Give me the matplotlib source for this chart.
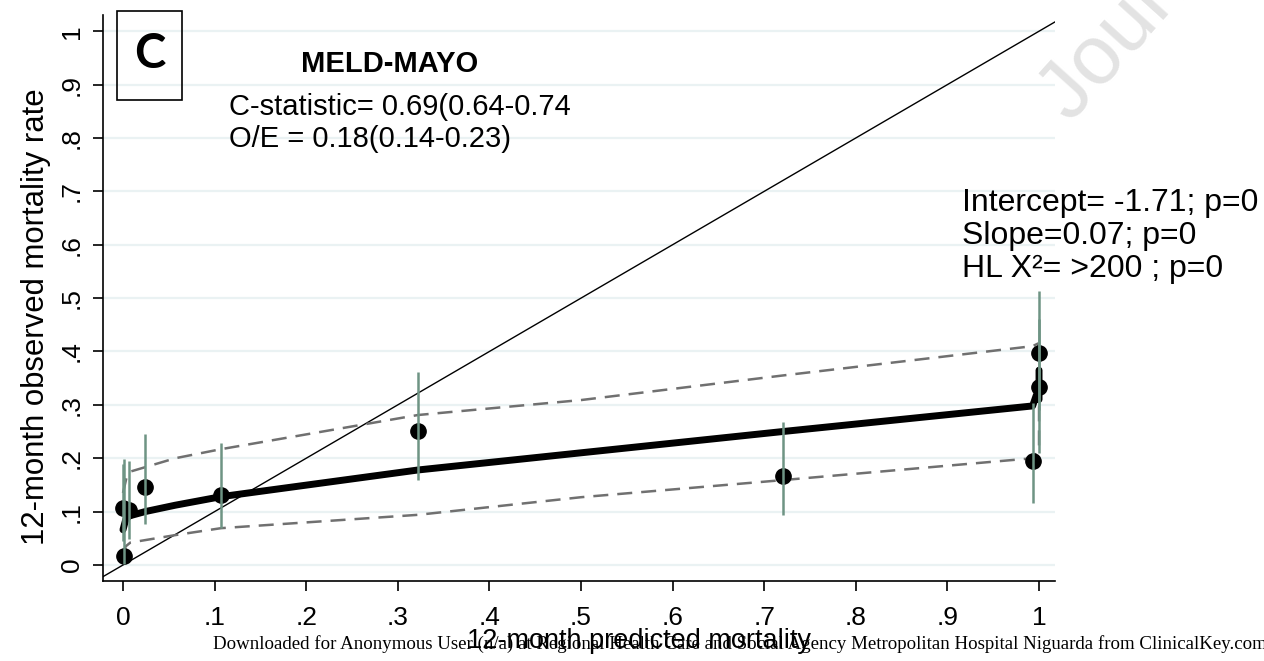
import numpy as np
import matplotlib.pyplot as plt
from matplotlib.patches import Rectangle

plt.rcParams['font.family'] = ['Liberation Sans', 'DejaVu Sans']

# grouped observed vs predicted (deciles) with 95% CI
obs_x = [0.001, 0.0, 0.0066, 0.024, 0.107, 0.322, 0.72, 0.993, 1.0, 1.0]
obs_y = [0.017, 0.107, 0.103, 0.146, 0.131, 0.251, 0.167, 0.195, 0.333, 0.397]
ci_lo = [0.002, 0.045, 0.049, 0.077, 0.069, 0.159, 0.094, 0.116, 0.21, 0.29]
ci_hi = [0.198, 0.19, 0.195, 0.245, 0.228, 0.362, 0.268, 0.303, 0.46, 0.513]

# smoothed calibration curve and its confidence band
smooth_x = [0.0, 0.003, 0.007, 0.024, 0.057, 0.107, 0.322, 0.72, 0.993, 0.997, 1.0, 1.0]
smooth_y = [0.066, 0.085, 0.092, 0.100, 0.112, 0.128, 0.178, 0.25, 0.298, 0.318, 0.31, 0.365]
upper_x = [0.0, 0.004, 0.008, 0.057, 0.107, 0.322, 0.5, 0.72, 0.993, 0.999, 1.0]
upper_y = [0.135, 0.165, 0.175, 0.2, 0.217, 0.281, 0.309, 0.355, 0.41, 0.415, 0.40]
lower_x = [0.0, 0.003, 0.008, 0.057, 0.107, 0.322, 0.5, 0.72, 0.993, 1.0, 1.0]
lower_y = [0.02, 0.035, 0.042, 0.056, 0.069, 0.094, 0.127, 0.159, 0.2, 0.215, 0.30]

ticks = np.round(np.arange(0, 1.01, 0.1), 1)
tick_labels = ['0', '.1', '.2', '.3', '.4', '.5', '.6', '.7', '.8', '.9', '1']

fig = plt.figure(figsize=(12.64, 6.61), dpi=100)
ax = fig.add_axes([0.0815, 0.121, 0.7532, 0.856])
ax.patch.set_visible(False)

for t in ticks:
    ax.axhline(t, color='#eaf2f3', lw=1.6, zorder=0)

ax.plot([-0.05, 1.05], [-0.05, 1.05], color='black', lw=1.0, zorder=2)
ax.plot(upper_x, upper_y, color='#707070', lw=1.8, dashes=(6, 3.6), zorder=3)
ax.plot(lower_x, lower_y, color='#707070', lw=1.8, dashes=(6, 3.6), zorder=3)
ax.plot(smooth_x, smooth_y, color='black', lw=5, solid_capstyle='round',
        solid_joinstyle='round', zorder=4)
ax.plot(obs_x, obs_y, 'o', color='black', ms=11, zorder=5)
ax.vlines(obs_x, ci_lo, ci_hi, color='#6e9484', lw=1.8, zorder=6)

ax.set_xlim(-0.0218, 1.0175)
ax.set_ylim(-0.030, 1.030)
ax.set_xticks(ticks)
ax.set_xticklabels(tick_labels)
ax.set_yticks(ticks)
ax.set_yticklabels(tick_labels, rotation=90, va='center')
ax.tick_params(axis='both', direction='out', length=7, width=1.2, labelsize=19)
ax.tick_params(axis='x', pad=11)
ax.tick_params(axis='y', pad=7)
for s in ['top', 'right']:
    ax.spines[s].set_visible(False)
for s in ['left', 'bottom']:
    ax.spines[s].set_linewidth(1.2)

ax.set_ylabel('12-month observed mortality rate', fontsize=22.4, va='center')
ax.yaxis.set_label_coords(-0.07, 0.468)
ax.set_xlabel('12-month predicted mortality', fontsize=19.5, va='center')
ax.xaxis.set_label_coords(0.563, -0.106)

# panel letter
fig.patches.append(Rectangle((117 / 1264, 1 - 100 / 661), 65 / 1264, 89 / 661,
                             transform=fig.transFigure, fill=False,
                             edgecolor='black', lw=1.2))
fig.text(150 / 1264, 1 - 54 / 661, 'C', fontsize=34, fontweight='bold',
         family=['Lato', 'DejaVu Sans'], ha='center', va='center')

fig.text(390 / 1264, 1 - 64 / 661, 'MELD-MAYO', fontsize=21, fontweight='bold',
         ha='center', va='center')
fig.text(229 / 1264, 1 - 107 / 661, 'C-statistic= 0.69(0.64-0.74', fontsize=21,
         ha='left', va='center')
fig.text(229 / 1264, 1 - 139 / 661, 'O/E = 0.18(0.14-0.23)', fontsize=21,
         ha='left', va='center')

fig.text(962 / 1264, 1 - 203 / 661, 'Intercept= -1.71; p=0', fontsize=23,
         ha='left', va='center')
fig.text(962 / 1264, 1 - 236 / 661, 'Slope=0.07; p=0', fontsize=23,
         ha='left', va='center')
fig.text(962 / 1264, 1 - 269 / 661, 'HL X²= >200 ; p=0', fontsize=23,
         ha='left', va='center')

# watermark and download stamp
fig.text(1070 / 1264, 1 - 124 / 661, 'Journal Pre-proof', fontsize=60,
         color='#e3e3e3', rotation=48, rotation_mode='anchor',
         ha='left', va='baseline', zorder=-1)
fig.text(213 / 1264, 1 - 649 / 661,
         'Downloaded for Anonymous User (n/a) at Regional Health Care and Social Agency '
         'Metropolitan Hospital Niguarda from ClinicalKey.com by Elsevier on',
         fontsize=13.6, family=['Liberation Serif', 'DejaVu Serif'], ha='left',
         va='baseline')

fig.savefig('out.png', dpi=100)
